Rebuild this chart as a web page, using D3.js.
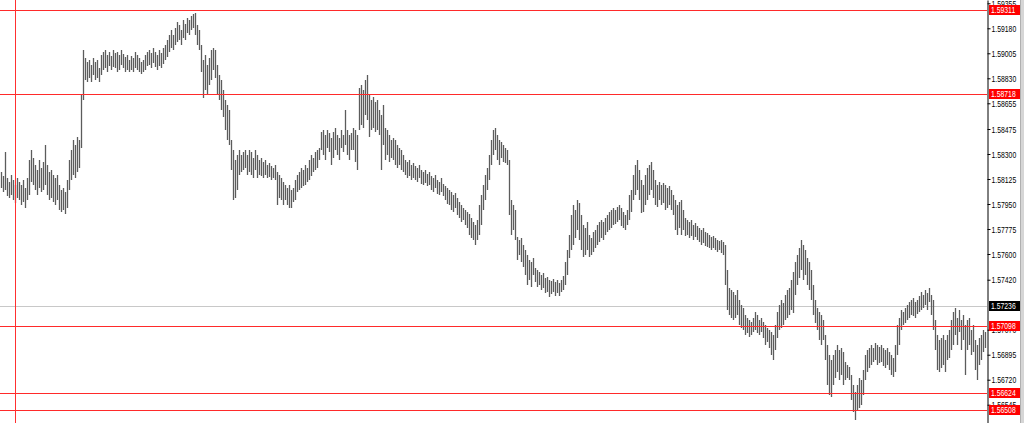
<!DOCTYPE html>
<html><head><meta charset="utf-8">
<script src="https://cdn.jsdelivr.net/npm/d3@7"></script>
<style>html,body{margin:0;padding:0;background:#fff;overflow:hidden}</style>
</head><body><svg id="c" width="1024" height="423"></svg>
<script>
const highs=[
1.58174,1.58146,1.58314,1.58132,1.58104,1.58153,1.58118,1.58083,1.58132,1.58104,
1.58083,1.58118,1.58062,1.58132,1.58258,1.58328,1.58272,1.58223,1.58188,1.58258,
1.58202,1.58244,1.58363,1.58223,1.58174,1.58188,1.58153,1.58132,1.58153,1.58083,
1.58048,1.58062,1.58034,1.58118,1.58258,1.58328,1.58398,1.58363,1.58419,1.58398,
1.58713,1.59028,1.58972,1.58944,1.58958,1.58923,1.58972,1.58944,1.58958,1.58902,
1.58993,1.59014,1.59028,1.58993,1.59014,1.58986,1.59028,1.59007,1.59014,1.58993,
1.59028,1.59000,1.58979,1.58993,1.58958,1.58986,1.58972,1.59014,1.58993,1.58972,
1.58944,1.58958,1.58993,1.59014,1.59028,1.59007,1.59042,1.59014,1.58993,1.59028,
1.59007,1.59042,1.59063,1.59098,1.59133,1.59168,1.59133,1.59182,1.59224,1.59203,
1.59168,1.59238,1.59210,1.59252,1.59238,1.59266,1.59280,1.59287,1.59203,1.59168,
1.59063,1.58958,1.58993,1.58923,1.58972,1.59028,1.59042,1.59028,1.58923,1.58853,
1.58818,1.58748,1.58678,1.58643,1.58608,1.58398,1.58328,1.58258,1.58293,1.58328,
1.58293,1.58314,1.58328,1.58293,1.58328,1.58314,1.58272,1.58328,1.58293,1.58258,
1.58272,1.58244,1.58258,1.58223,1.58237,1.58216,1.58202,1.58223,1.58174,1.58153,
1.58132,1.58104,1.58083,1.58062,1.58083,1.58048,1.58062,1.58118,1.58153,1.58174,
1.58202,1.58188,1.58223,1.58202,1.58258,1.58293,1.58272,1.58314,1.58328,1.58342,
1.58454,1.58468,1.58433,1.58468,1.58447,1.58412,1.58454,1.58482,1.58433,1.58412,
1.58468,1.58433,1.58608,1.58468,1.58433,1.58447,1.58482,1.58468,1.58433,1.58762,
1.58783,1.58748,1.58818,1.58853,1.58713,1.58678,1.58699,1.58664,1.58678,1.58608,
1.58573,1.58643,1.58482,1.58468,1.58433,1.58398,1.58412,1.58398,1.58363,1.58342,
1.58328,1.58293,1.58258,1.58244,1.58258,1.58223,1.58237,1.58216,1.58202,1.58223,
1.58188,1.58174,1.58188,1.58160,1.58174,1.58146,1.58132,1.58153,1.58118,1.58104,
1.58132,1.58090,1.58076,1.58062,1.58048,1.58034,1.58013,1.58027,1.57992,1.57964,
1.57943,1.57922,1.57908,1.57894,1.57880,1.57852,1.57824,1.57803,1.57838,1.57943,
1.58013,1.58083,1.58153,1.58202,1.58293,1.58398,1.58468,1.58482,1.58433,1.58398,
1.58384,1.58363,1.58342,1.58328,1.58258,1.57978,1.57943,1.57908,1.57719,1.57698,
1.57712,1.57663,1.57628,1.57593,1.57558,1.57544,1.57572,1.57502,1.57488,1.57474,
1.57453,1.57467,1.57432,1.57439,1.57418,1.57411,1.57425,1.57404,1.57418,1.57397,
1.57418,1.57446,1.57544,1.57628,1.57733,1.57873,1.57943,1.57908,1.57978,1.57957,
1.57873,1.57803,1.57782,1.57824,1.57733,1.57712,1.57754,1.57768,1.57803,1.57824,
1.57838,1.57824,1.57852,1.57873,1.57894,1.57908,1.57922,1.57908,1.57929,1.57943,
1.57922,1.57894,1.57873,1.57908,1.58013,1.58048,1.58153,1.58223,1.58258,1.58188,
1.58118,1.58083,1.58153,1.58202,1.58223,1.58244,1.58188,1.58118,1.58083,1.58104,
1.58083,1.58097,1.58083,1.58062,1.58076,1.58048,1.58013,1.57978,1.57943,1.57964,
1.57978,1.57908,1.57852,1.57838,1.57824,1.57838,1.57803,1.57817,1.57796,1.57782,
1.57768,1.57782,1.57754,1.57747,1.57733,1.57719,1.57726,1.57712,1.57698,1.57691,
1.57698,1.57684,1.57663,1.57488,1.57362,1.57348,1.57334,1.57313,1.57348,1.57278,
1.57243,1.57222,1.57173,1.57152,1.57138,1.57124,1.57152,1.57194,1.57173,1.57138,
1.57152,1.57124,1.57103,1.57082,1.57068,1.57054,1.57033,1.57103,1.57194,1.57243,
1.57278,1.57257,1.57313,1.57348,1.57362,1.57418,1.57474,1.57544,1.57593,1.57642,
1.57698,1.57663,1.57628,1.57572,1.57544,1.57488,1.57383,1.57278,1.57222,1.57194,
1.57173,1.57138,1.57033,1.56963,1.56893,1.56858,1.56893,1.56928,1.56963,1.56928,
1.56942,1.56914,1.56844,1.56823,1.56809,1.56753,1.56683,1.56634,1.56683,1.56732,
1.56718,1.56788,1.56893,1.56928,1.56942,1.56963,1.56942,1.56977,1.56963,1.56949,
1.56963,1.56942,1.56928,1.56942,1.56914,1.56893,1.56872,1.56963,1.57103,1.57152,
1.57208,1.57194,1.57222,1.57243,1.57264,1.57278,1.57292,1.57264,1.57278,1.57306,
1.57334,1.57313,1.57348,1.57327,1.57362,1.57313,1.57278,1.57138,1.57033,1.56998,
1.57012,1.57033,1.56998,1.57033,1.57068,1.57138,1.57194,1.57222,1.57152,1.57208,
1.57138,1.57173,1.57103,1.57138,1.57152,1.57068,1.57103,1.56998,1.56963,1.57012,
1.57033,1.57068,1.57054
];
const lows=[
1.58062,1.58034,1.58048,1.58006,1.57992,1.58013,1.57978,1.57957,1.57992,1.57978,
1.57943,1.57964,1.57922,1.57978,1.58013,1.58104,1.58083,1.58048,1.58013,1.58062,
1.58034,1.58048,1.58083,1.58013,1.57978,1.57992,1.57964,1.57943,1.57978,1.57908,
1.57894,1.57908,1.57880,1.57922,1.58048,1.58118,1.58153,1.58132,1.58174,1.58202,
1.58342,1.58678,1.58818,1.58804,1.58832,1.58804,1.58853,1.58818,1.58832,1.58804,
1.58853,1.58888,1.58902,1.58874,1.58916,1.58888,1.58909,1.58902,1.58874,1.58888,
1.58923,1.58902,1.58874,1.58888,1.58874,1.58888,1.58874,1.58902,1.58888,1.58874,
1.58860,1.58874,1.58888,1.58916,1.58923,1.58902,1.58937,1.58909,1.58888,1.58916,
1.58902,1.58930,1.58958,1.58979,1.59014,1.59042,1.59028,1.59063,1.59084,1.59098,
1.59063,1.59112,1.59098,1.59147,1.59133,1.59168,1.59182,1.59133,1.59063,1.59028,
1.58874,1.58692,1.58748,1.58713,1.58783,1.58818,1.58888,1.58832,1.58713,1.58678,
1.58608,1.58559,1.58468,1.58398,1.58363,1.58188,1.57978,1.57992,1.58048,1.58153,
1.58174,1.58188,1.58202,1.58153,1.58174,1.58153,1.58132,1.58188,1.58132,1.58153,
1.58146,1.58132,1.58153,1.58132,1.58139,1.58118,1.58132,1.58118,1.57943,1.57992,
1.57978,1.57943,1.57978,1.57943,1.57922,1.57922,1.57964,1.57978,1.58034,1.58048,
1.58062,1.58076,1.58083,1.58104,1.58118,1.58146,1.58174,1.58188,1.58202,1.58258,
1.58328,1.58293,1.58258,1.58342,1.58314,1.58223,1.58272,1.58328,1.58293,1.58258,
1.58342,1.58314,1.58363,1.58293,1.58258,1.58328,1.58328,1.58244,1.58188,1.58468,
1.58503,1.58482,1.58573,1.58538,1.58419,1.58468,1.58482,1.58454,1.58468,1.58433,
1.58188,1.58363,1.58258,1.58293,1.58244,1.58272,1.58258,1.58223,1.58202,1.58223,
1.58188,1.58174,1.58153,1.58132,1.58146,1.58118,1.58132,1.58118,1.58104,1.58132,
1.58090,1.58083,1.58097,1.58076,1.58083,1.58048,1.58034,1.58062,1.58020,1.58013,
1.58034,1.58006,1.57978,1.57950,1.57943,1.57908,1.57894,1.57922,1.57873,1.57852,
1.57824,1.57838,1.57803,1.57782,1.57733,1.57712,1.57698,1.57663,1.57698,1.57733,
1.57803,1.57908,1.57978,1.58048,1.58118,1.58223,1.58293,1.58328,1.58258,1.58223,
1.58272,1.58244,1.58237,1.58223,1.57873,1.57733,1.57768,1.57698,1.57558,1.57593,
1.57544,1.57509,1.57453,1.57383,1.57418,1.57369,1.57453,1.57404,1.57369,1.57383,
1.57348,1.57362,1.57327,1.57334,1.57299,1.57320,1.57334,1.57306,1.57327,1.57306,
1.57334,1.57348,1.57383,1.57453,1.57572,1.57628,1.57663,1.57712,1.57768,1.57698,
1.57628,1.57579,1.57593,1.57628,1.57579,1.57593,1.57614,1.57642,1.57663,1.57684,
1.57712,1.57698,1.57733,1.57754,1.57768,1.57782,1.57803,1.57810,1.57824,1.57838,
1.57796,1.57782,1.57768,1.57803,1.57838,1.57894,1.57978,1.58013,1.58048,1.57978,
1.57887,1.57894,1.57943,1.57978,1.58013,1.58048,1.57992,1.57943,1.57929,1.57978,
1.57943,1.57957,1.57908,1.57922,1.57943,1.57908,1.57873,1.57768,1.57733,1.57782,
1.57733,1.57768,1.57726,1.57733,1.57712,1.57726,1.57698,1.57719,1.57698,1.57684,
1.57663,1.57677,1.57656,1.57649,1.57642,1.57628,1.57642,1.57628,1.57614,1.57628,
1.57607,1.57593,1.57383,1.57208,1.57173,1.57152,1.57138,1.57152,1.57173,1.57103,
1.57082,1.57068,1.57033,1.57047,1.57019,1.57033,1.57054,1.57068,1.57047,1.57033,
1.57054,1.57012,1.56963,1.56984,1.56942,1.56893,1.56858,1.56928,1.57012,1.57068,
1.57082,1.57103,1.57138,1.57152,1.57173,1.57208,1.57187,1.57313,1.57383,1.57432,
1.57488,1.57418,1.57453,1.57383,1.57348,1.57278,1.57173,1.57117,1.57068,1.56998,
1.56963,1.56998,1.56858,1.56683,1.56613,1.56599,1.56683,1.56732,1.56774,1.56718,
1.56753,1.56683,1.56718,1.56732,1.56718,1.56578,1.56494,1.56438,1.56508,1.56522,
1.56543,1.56613,1.56718,1.56774,1.56802,1.56823,1.56844,1.56858,1.56823,1.56837,
1.56844,1.56816,1.56802,1.56823,1.56788,1.56753,1.56739,1.56774,1.56893,1.56963,
1.57068,1.57103,1.57117,1.57138,1.57152,1.57173,1.57166,1.57152,1.57180,1.57194,
1.57208,1.57222,1.57243,1.57208,1.57264,1.57173,1.57068,1.56928,1.56788,1.56774,
1.56802,1.56823,1.56774,1.56858,1.56872,1.56928,1.56963,1.57033,1.56963,1.57054,
1.56928,1.56998,1.56753,1.56928,1.56963,1.56893,1.56914,1.56788,1.56718,1.56823,
1.56858,1.56914,1.56942
];
const tickValues=[1.59355,1.59180,1.59005,1.58830,1.58655,1.58475,1.58300,1.58125,1.57950,1.57775,1.57600,1.57420,1.57070,1.56895,1.56720,1.56545];
const levelLines=[1.59311,1.58718,1.57098,1.56624,1.56508];
const bidPrice=1.57236;
const markerBar=7;
const priceTop=1.59378, priceBottom=1.56417;

const W=1024,H=423, axisX=987;
const FONT="'Liberation Sans', Arial, sans-serif";
const svg=d3.select("#c");
const x=d3.scaleLinear().domain([0,highs.length-1]).range([1,985]);
const y=d3.scaleLinear().domain([priceTop,priceBottom]).range([0,H]);

// bid line (behind bars)
svg.append("line").attr("x1",0).attr("x2",axisX).attr("y1",Math.round(y(bidPrice))+0.5).attr("y2",Math.round(y(bidPrice))+0.5)
  .attr("stroke","#c8c8c8").attr("stroke-width",1);

// bars
svg.append("g").selectAll("line").data(highs).join("line")
  .attr("x1",(d,i)=>Math.round(x(i))+0.5).attr("x2",(d,i)=>Math.round(x(i))+0.5)
  .attr("y1",d=>y(d)).attr("y2",(d,i)=>y(lows[i]))
  .attr("stroke","#5c5c5c").attr("stroke-width",1.3);

// level lines
svg.append("g").selectAll("line").data(levelLines).join("line")
  .attr("x1",0).attr("x2",axisX)
  .attr("y1",d=>Math.round(y(d))+0.5).attr("y2",d=>Math.round(y(d))+0.5)
  .attr("stroke","#ff2a2a").attr("stroke-width",1.2);

// vertical marker
svg.append("line").attr("x1",Math.round(x(markerBar))+0.5).attr("x2",Math.round(x(markerBar))+0.5)
  .attr("y1",0).attr("y2",H).attr("stroke","#ff3030").attr("stroke-width",1);

// right panel background
svg.append("rect").attr("x",axisX+1).attr("y",0).attr("width",W-axisX-1).attr("height",H).attr("fill","#fff");
svg.append("rect").attr("x",1020).attr("y",0).attr("width",4).attr("height",H).attr("fill","#d6d6d6");
svg.append("line").attr("x1",1020.5).attr("x2",1020.5).attr("y1",0).attr("y2",H).attr("stroke","#b0b0b0");

// axis
const axis=d3.axisRight(y).tickValues(tickValues).tickSize(3).tickSizeOuter(0).tickPadding(1)
  .tickFormat(d3.format(".5f"));
const ag=svg.append("g").attr("transform",`translate(${axisX+0.5},0)`).call(axis);
ag.select(".domain").attr("stroke","#000");
ag.selectAll(".tick line").attr("stroke","#000");
ag.selectAll(".tick text").attr("x",0).attr("transform","translate(4,0) scale(0.72,1)")
  .attr("font-family",FONT).attr("font-size","9.5px").attr("fill","#000");

// price labels
function priceLabel(v,bg){
  const g=svg.append("g").attr("transform",`translate(989,${Math.round(y(v))})`);
  g.append("rect").attr("x",0).attr("y",-5).attr("width",31).attr("height",10).attr("fill",bg);
  g.append("text").attr("transform","translate(2,0) scale(0.72,1)").attr("dy","0.34em").text(d3.format(".5f")(v))
    .attr("font-family",FONT).attr("font-size","9.5px").attr("fill","#fff");
}
levelLines.forEach(v=>priceLabel(v,"#ff0000"));
priceLabel(bidPrice,"#000");
</script></body></html>
